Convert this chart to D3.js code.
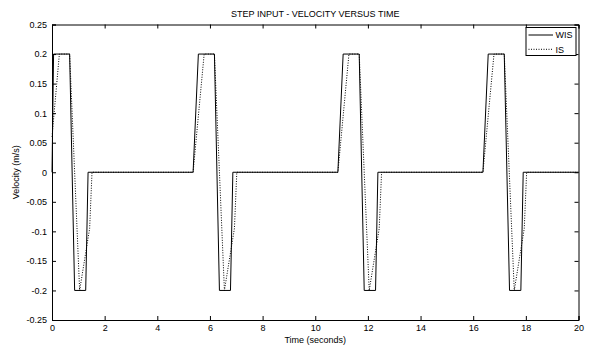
<!DOCTYPE html>
<html><head><meta charset="utf-8">
<script src="https://cdn.jsdelivr.net/npm/d3@7"></script>
<style>
body{margin:0;background:#fff;}
text{font-family:"Liberation Sans",Arial,sans-serif;fill:#000;}
</style></head>
<body><svg id="c" width="593" height="345"></svg>
<script>
const title = "STEP INPUT - VELOCITY VERSUS TIME";
const xLabel = "Time (seconds)";
const yLabel = "Velocity (m/s)";
const xTicks = [0,2,4,6,8,10,12,14,16,18,20];
const yTicks = [-0.25,-0.2,-0.15,-0.1,-0.05,0,0.05,0.1,0.15,0.2,0.25];
const seriesNames = ["WIS","IS"];
const wisT = [0,0.06,0.67,0.86,1.28,1.37,5.36,5.56,6.17,6.36,6.78,6.87,10.86,11.06,11.67,11.86,12.29,12.38,16.37,16.57,17.18,17.38,17.81,17.90,20];
const wisV = [0,0.2,0.2,-0.2,-0.2,0,0,0.2,0.2,-0.2,-0.2,0,0,0.2,0.2,-0.2,-0.2,0,0,0.2,0.2,-0.2,-0.2,0,0];
const isT = [0,0.28,0.67,1.05,1.43,1.52,5.36,5.78,6.17,6.55,6.93,7.02,10.86,11.28,11.67,12.05,12.43,12.52,16.37,16.79,17.18,17.56,17.94,18.03,20];
const isV = [0.06,0.2,0.2,-0.2,-0.095,0,0,0.2,0.2,-0.2,-0.095,0,0,0.2,0.2,-0.2,-0.095,0,0,0.2,0.2,-0.2,-0.095,0,0];

const L=52, R=578.5, T=24.5, B=320;
const svg=d3.select("#c");
const x=d3.scaleLinear().domain([0,20]).range([L,R]);
const y=d3.scaleLinear().domain([-0.25,0.25]).range([B,T]);
const fmt=d=>String(+d.toFixed(2));
const FS=9;

const gB=svg.append("g").attr("transform",`translate(0,${B})`)
  .call(d3.axisBottom(x).tickValues(xTicks).tickSize(-4).tickPadding(5).tickFormat(fmt));
const gT=svg.append("g").attr("transform",`translate(0,${T})`)
  .call(d3.axisTop(x).tickValues(xTicks).tickSize(-4).tickFormat(""));
const gL=svg.append("g").attr("transform",`translate(${L},0)`)
  .call(d3.axisLeft(y).tickValues(yTicks).tickSize(-4).tickPadding(5).tickFormat(fmt));
const gR=svg.append("g").attr("transform",`translate(${R},0)`)
  .call(d3.axisRight(y).tickValues(yTicks).tickSize(-4).tickFormat(""));
[gB,gT,gL,gR].forEach(g=>{
  g.select(".domain").attr("stroke","#000").attr("stroke-width",1);
  g.selectAll(".tick line").attr("stroke","#000");
  g.selectAll("text").attr("font-family","Liberation Sans, Arial, sans-serif").attr("font-size",FS).attr("fill","#000");
});

const line=d3.line().x(d=>x(d[0])).y(d=>y(d[1]));
const wis=wisT.map((t,i)=>[t,wisV[i]]);
const is=isT.map((t,i)=>[t,isV[i]]);
svg.append("path").datum(is).attr("d",line).attr("fill","none").attr("stroke","#000").attr("stroke-width",1).attr("stroke-dasharray","1,1.5");
svg.append("path").datum(wis).attr("d",line).attr("fill","none").attr("stroke","#000").attr("stroke-width",1);

svg.append("text").attr("x",(L+R)/2).attr("y",17).attr("text-anchor","middle").attr("font-size",FS).text(title);
svg.append("text").attr("x",(L+R)/2).attr("y",343).attr("text-anchor","middle").attr("font-size",FS).text(xLabel);
svg.append("text").attr("transform",`translate(19,${(T+B)/2}) rotate(-90)`).attr("text-anchor","middle").attr("font-size",FS).text(yLabel);

const lg=svg.append("g");
lg.append("rect").attr("x",526).attr("y",27.5).attr("width",50).attr("height",28).attr("fill","#fff").attr("stroke","#000").attr("stroke-width",1);
const dashes=[null,"1,1.5"];
seriesNames.forEach((n,i)=>{
  const yy=35+i*14.3;
  lg.append("line").attr("x1",528.5).attr("x2",553).attr("y1",yy).attr("y2",yy).attr("stroke","#000").attr("stroke-width",1).attr("stroke-dasharray",dashes[i]);
  lg.append("text").attr("x",555.5).attr("y",yy+3.3).attr("font-size",FS).text(n);
});
</script></body></html>
